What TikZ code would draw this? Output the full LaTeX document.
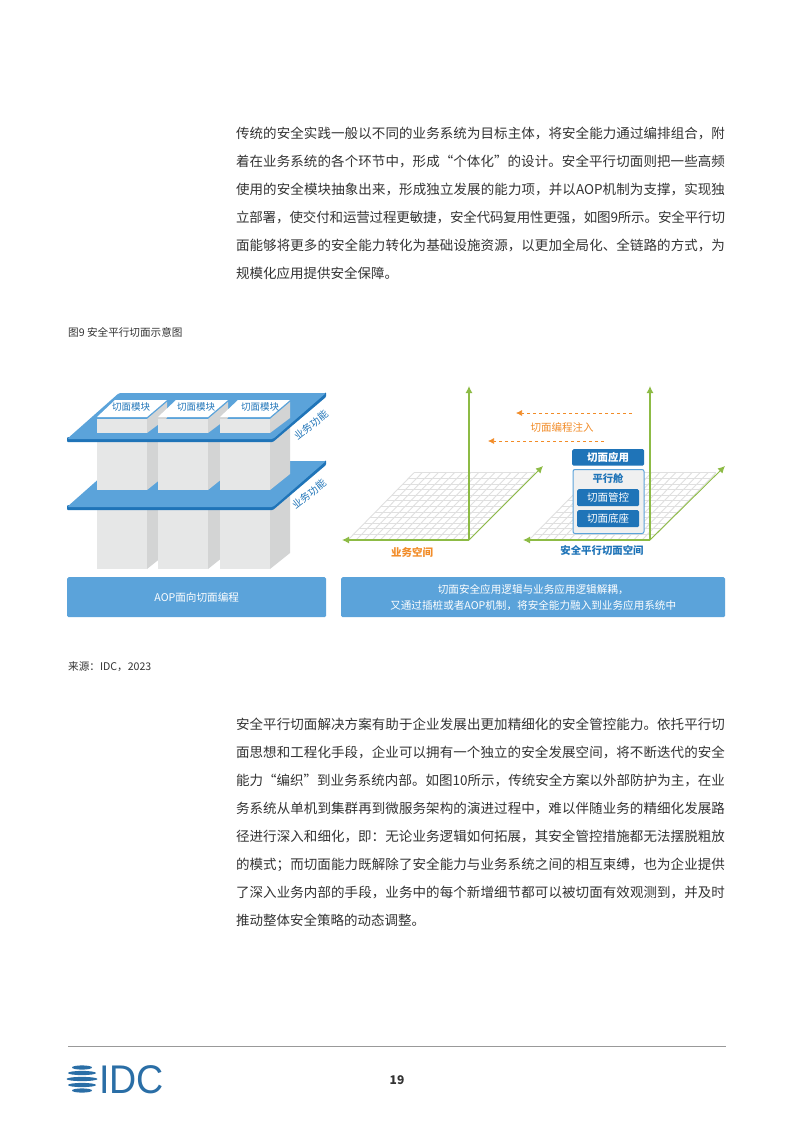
\documentclass[tikz,border=0pt]{standalone}
\usepackage{fontspec}
\setmainfont{Noto Sans CJK SC}
\newfontfamily\logofont{Liberation Sans}
\usetikzlibrary{arrows.meta}
\XeTeXlinebreaklocale "zh"
\XeTeXlinebreakskip=0pt plus 1pt minus .2pt
\definecolor{platelight}{HTML}{5BA3DA}
\definecolor{platedark}{HTML}{1F74B8}
\definecolor{frontgrey}{HTML}{E6E7E7}
\definecolor{sidegrey}{HTML}{D3D4D4}
\definecolor{axisgreen}{HTML}{8DBB45}
\definecolor{injectorange}{HTML}{F28C28}
\definecolor{logoblue}{HTML}{2A6EA6}
\definecolor{bodygrey}{HTML}{333333}
\tikzset{
	bodytext/.style={anchor=north west,inner sep=0,outer sep=0,text width=489pt,align=justify,text=bodygrey,font=\fontsize{13.5pt}{28pt}\selectfont},
	captext/.style={anchor=west,inner sep=0,text=bodygrey,font=\fontsize{10.6pt}{12pt}\selectfont},
	modlabel/.style={inner sep=0,text=platedark,font=\fontsize{9.5pt}{11pt}\selectfont},
	funclabel/.style={inner sep=0,rotate=38,text=platedark,font=\fontsize{10pt}{11pt}\selectfont},
	barbox/.style={anchor=north west,fill=platelight,rounded corners=1.5pt,inner sep=0,text=white,align=center,font=\fontsize{10.6pt}{16pt}\selectfont},
	capsule/.style={anchor=north west,fill=platedark,rounded corners=1.5pt,inner sep=0,text=white,font=\fontsize{10.5pt}{12pt}\selectfont},
	axis/.style={draw=axisgreen,line width=1.2pt,-{Latex[length=7pt,width=7pt]}},
	inject/.style={draw=injectorange,line width=.7pt,dashed,dash pattern=on 3.5pt off 2.5pt,-{Latex[length=6pt,width=6pt]}},
	floorline/.style={draw=black!12,line width=.9pt},
	front/.style={fill=frontgrey},
	side/.style={fill=sidegrey},
}
\begin{document}
\begin{tikzpicture}[x=1pt,y=-1pt]
	\useasboundingbox (0,0) rectangle (793,1122);
	\fill[white] (0,0) rectangle (793,1122);
	% page text
	\node[bodytext] (para1) at (236,127.5) {传统的安全实践一般以不同的业务系统为目标主体，将安全能力通过编排组合，附\linebreak
		着在业务系统的各个环节中，形成“个体化”的设计。安全平行切面则把一些高频\linebreak
		使用的安全模块抽象出来，形成独立发展的能力项，并以AOP机制为支撑，实现独\linebreak
		立部署，使交付和运营过程更敏捷，安全代码复用性更强，如图9所示。安全平行切\linebreak
		面能够将更多的安全能力转化为基础设施资源，以更加全局化、全链路的方式，为\linebreak
		规模化应用提供安全保障。};
	\node[captext] (figcap) at (68,332) {图9 安全平行切面示意图};
	\node[captext] (source) at (68,667) {来源：IDC，2023};
	\node[bodytext] (para2) at (236,718) {安全平行切面解决方案有助于企业发展出更加精细化的安全管控能力。依托平行切\linebreak
		面思想和工程化手段，企业可以拥有一个独立的安全发展空间，将不断迭代的安全\linebreak
		能力“编织”到业务系统内部。如图10所示，传统安全方案以外部防护为主，在业\linebreak
		务系统从单机到集群再到微服务架构的演进过程中，难以伴随业务的精细化发展路\linebreak
		径进行深入和细化，即：无论业务逻辑如何拓展，其安全管控措施都无法摆脱粗放\linebreak
		的模式；而切面能力既解除了安全能力与业务系统之间的相互束缚，也为企业提供\linebreak
		了深入业务内部的手段，业务中的每个新增细节都可以被切面有效观测到，并及时\linebreak
		推动整体安全策略的动态调整。};
	% lower columns
	\foreach \colx in {97,158,220} {
		\fill[side] (\colx+50,495) -- (\colx+70,480) -- (\colx+70,553) -- (\colx+50,569) -- cycle;
		\fill[front] (\colx,495) rectangle (\colx+50,569);
	}
	% lower plate
	\fill[platedark,rounded corners=1pt] (67,505) -- (67,510) -- (273,510) -- (326,465) -- (326,460) -- (273,505) -- cycle;
	\fill[platelight,rounded corners=1.5pt] (67,507) -- (119,461) -- (326,461) -- (273,507) -- cycle;
	% middle columns
	\foreach \colx in {97,158,220} {
		\fill[side] (\colx+50,419) -- (\colx+70,402) -- (\colx+70,474) -- (\colx+50,490) -- cycle;
		\fill[front] (\colx,419) rectangle (\colx+50,490);
	}
	% upper plate
	\fill[platedark,rounded corners=1pt] (67,437) -- (67,442) -- (273,442) -- (326,397) -- (326,392) -- (273,437) -- cycle;
	\fill[platelight,rounded corners=1.5pt] (67,439) -- (119,393) -- (326,393) -- (273,439) -- cycle;
	% module caps
	\foreach \colx/\labx/\modname in {97/131/mod1,158/196/mod2,220/260/mod3} {
		\fill[side] (\colx+50,419) -- (\colx+70,402) -- (\colx+70,418) -- (\colx+50,433) -- cycle;
		\fill[front] (\colx,419) rectangle (\colx+50,433);
		\fill[white] (\colx,417) -- (\colx+18,400) -- (\colx+70,400) -- (\colx+50,417) -- cycle;
		\node[modlabel] (\modname) at (\labx,406.5) {切面模块};
	}
	\node[funclabel] (func1) at (311,425) {业务功能};
	\node[funclabel] (func2) at (309,494) {业务功能};
	\node[barbox,minimum width=259pt,minimum height=40pt] (aopbar) at (67,577) {AOP面向切面编程};
	% floors
	\foreach \origx in {469,650} {
		\begin{scope}[shift={(\origx,540)},x={(-8.07pt,0pt)},y={(5.5pt,5.6pt)}]
			\foreach \i in {0,...,15} \draw[floorline] (\i,0) -- (\i,12);
			\foreach \j in {0,...,12} \draw[floorline] (0,\j) -- (15,\j);
		\end{scope}
	}
	% axes
	\coordinate (bizorigin) at (469,540);
	\coordinate (bizup) at (469,386);
	\coordinate (bizleft) at (342,540);
	\coordinate (bizback) at (543,466);
	\coordinate (secorigin) at (650,540);
	\coordinate (secup) at (650,386);
	\coordinate (secleft) at (523,540);
	\coordinate (secback) at (725,466);
	\draw[axis] (bizorigin) -- (bizup);
	\draw[axis] (bizorigin) -- (bizleft);
	\draw[axis,line width=.9pt] (bizorigin) -- (bizback);
	\draw[axis] (secorigin) -- (secup);
	\draw[axis] (secorigin) -- (secleft);
	\draw[axis,line width=.9pt] (secorigin) -- (secback);
	% injection arrows
	\coordinate (injectA) at (632,413);
	\coordinate (injectAend) at (516,413);
	\coordinate (injectB) at (604,441);
	\coordinate (injectBend) at (488,441);
	\draw[inject] (injectA) -- (injectAend);
	\draw[inject] (injectB) -- (injectBend);
	\node[inner sep=0,text=injectorange,font=\fontsize{10.5pt}{12pt}\selectfont] (injectlabel) at (562,427) {切面编程注入};
	% capsule stack
	\node[capsule,minimum width=72pt,minimum height=16.5pt,font=\fontsize{10.5pt}{12pt}\selectfont\bfseries] (app) at (572,449) {切面应用};
	\node[anchor=north west,draw=platelight,fill=black!6,line width=1pt,rounded corners=2pt,inner sep=0,minimum width=71pt,minimum height=64pt] (capsule) at (572.5,469) {};
	\node[inner sep=0,text=platedark,font=\fontsize{10.3pt}{12pt}\selectfont\bfseries] (capsuletitle) at (608,479) {平行舱};
	\node[capsule,minimum width=62pt,minimum height=17pt] (ctrl) at (577,489) {切面管控};
	\node[capsule,minimum width=62pt,minimum height=17pt] (base) at (577,510) {切面底座};
	\node[inner sep=0,text=injectorange,font=\fontsize{10.5pt}{12pt}\selectfont\bfseries] (bizspace) at (412,552) {业务空间};
	\node[inner sep=0,text=platedark,font=\fontsize{10.4pt}{12pt}\selectfont\bfseries] (secspace) at (602,551) {安全平行切面空间};
	\node[barbox,minimum width=384pt,minimum height=40pt] (secbar) at (341,577) {切面安全应用逻辑与业务应用逻辑解耦，\\又通过插桩或者AOP机制，将安全能力融入到业务应用系统中};
	% footer
	\coordinate (ruleL) at (68,1046);
	\coordinate (ruleR) at (726,1046);
	\draw[black!40,line width=.8pt] (ruleL) -- (ruleR);
	\foreach \stripey/\stripew in {1067.5/10,1073/14,1079/15.5,1085/14,1090.5/10}
		\fill[logoblue] (82,\stripey) ellipse [x radius=\stripew,y radius=2.1];
	\node[anchor=base west,inner sep=0,text=logoblue,xscale=.94,font=\logofont\fontsize{40pt}{40pt}\selectfont] (idc) at (99,1093) {IDC};
	\node[inner sep=0,text=bodygrey,font=\fontsize{12pt}{14pt}\selectfont\bfseries] (pageno) at (397,1080) {19};
\end{tikzpicture}
\end{document}
